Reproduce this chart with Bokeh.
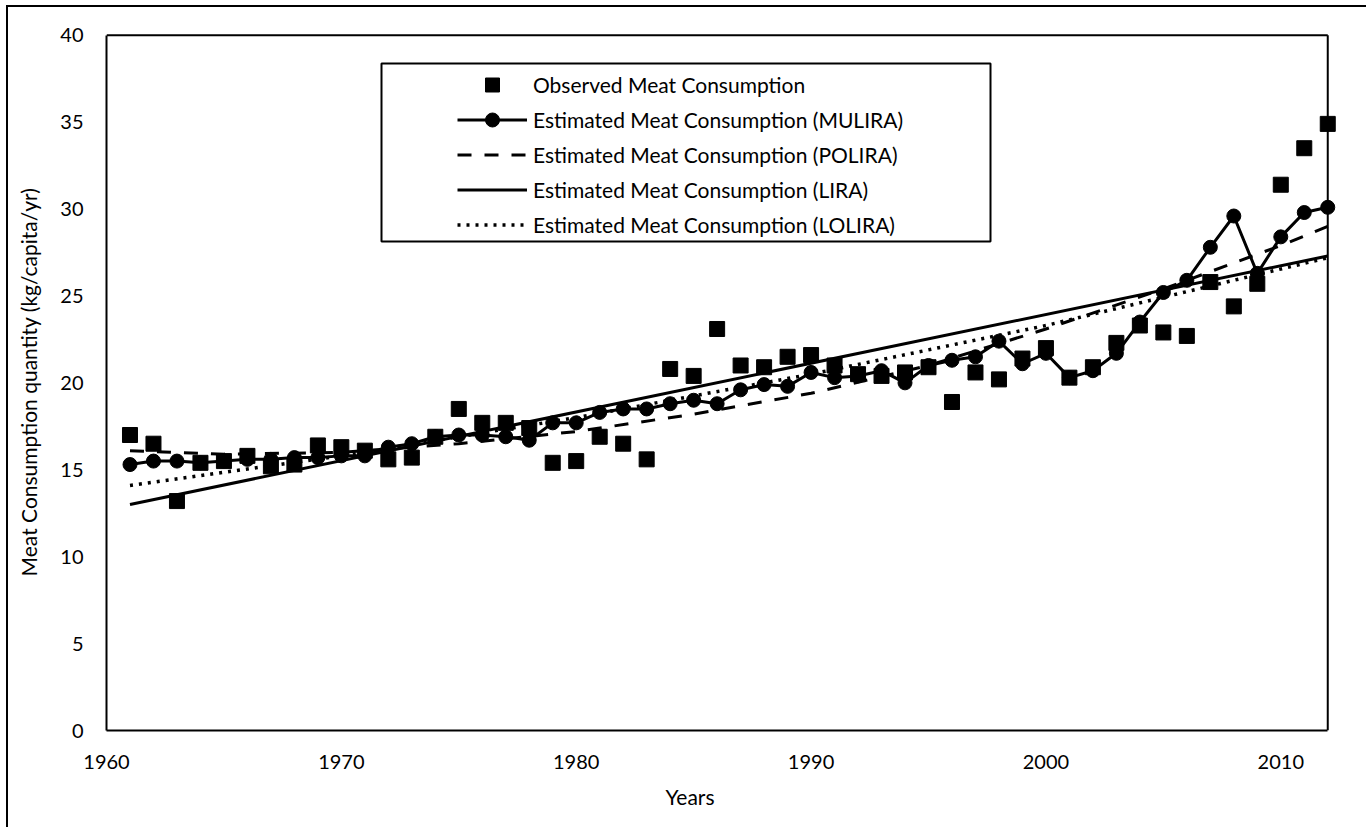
from bokeh.plotting import figure
from bokeh.models import Legend, LegendItem, BoxAnnotation, Title, FixedTicker, Range1d
from bokeh.embed import file_html
from bokeh.resources import INLINE

years = list(range(1961, 2013))
observed = [17.0, 16.5, 13.2, 15.4, 15.5, 15.8, 15.2, 15.3, 16.4, 16.3,
            16.1, 15.6, 15.7, 16.9, 18.5, 17.7, 17.7, 17.4, 15.4, 15.5,
            16.9, 16.5, 15.6, 20.8, 20.4, 23.1, 21.0, 20.9, 21.5, 21.6,
            21.0, 20.5, 20.4, 20.6, 20.9, 18.9, 20.6, 20.2, 21.4, 22.0,
            20.3, 20.9, 22.3, 23.3, 22.9, 22.7, 25.8, 24.4, 25.7, 31.4,
            33.5, 34.9]
mulira = [15.3, 15.5, 15.5, 15.4, 15.5, 15.6, 15.6, 15.7, 15.7, 15.8,
          15.8, 16.3, 16.5, 16.9, 17.0, 17.0, 16.9, 16.7, 17.7, 17.7,
          18.3, 18.5, 18.5, 18.8, 19.0, 18.8, 19.6, 19.9, 19.8, 20.6,
          20.3, 20.4, 20.7, 20.0, 21.0, 21.3, 21.5, 22.4, 21.1, 21.7,
          20.3, 20.7, 21.7, 23.5, 25.2, 25.9, 27.8, 29.6, 26.3, 28.4,
          29.8, 30.1]
polira_years = [1961, 1965, 1970, 1975, 1980, 1985, 1990, 1995, 2000, 2005, 2010, 2012]
polira = [16.1, 15.9, 16.0, 16.5, 17.2, 18.2, 19.4, 21.0, 23.1, 25.4, 27.9, 29.0]
lira_years = [1961, 2012]
lira = [13.0, 27.3]
lolira_years = [1961, 1970, 1980, 1990, 2000, 2012]
lolira = [14.1, 15.8, 18.0, 20.5, 23.3, 27.2]

x_ticks = [1960, 1970, 1980, 1990, 2000, 2010]
y_ticks = [0, 5, 10, 15, 20, 25, 30, 35, 40]
x_min, x_max = 1960, 2012
y_min, y_max = 0, 40

labels = ["Observed Meat Consumption",
          "Estimated Meat Consumption (MULIRA)",
          "Estimated Meat Consumption (POLIRA)",
          "Estimated Meat Consumption (LIRA)",
          "Estimated Meat Consumption (LOLIRA)"]

FONT = "Lato"
FS = "20px"
FS_BIG = "21px"

p = figure(width=1360, height=822,
           x_range=Range1d(x_min, x_max + 0.5), y_range=Range1d(y_min, y_max + 0.1),
           output_backend="svg", toolbar_location=None,
           min_border_left=98, min_border_right=29, min_border_top=26, min_border_bottom=99)
p.styles = {"border-left": "2px solid black", "border-top": "2px solid black",
            "margin-left": "6px", "margin-top": "5px"}
p.grid.visible = False
p.outline_line_color = None
p.background_fill_color = "white"
p.border_fill_color = "white"

for ax in (p.xaxis[0], p.yaxis[0]):
    ax.axis_line_color = "black"
    ax.axis_line_width = 2
    ax.major_tick_in = 0
    ax.major_tick_out = 0
    ax.minor_tick_in = 0
    ax.minor_tick_out = 0
    ax.major_label_text_font = FONT
    ax.major_label_text_font_size = FS
    ax.major_label_text_color = "black"
    ax.axis_label_text_font = FONT
    ax.axis_label_text_font_size = FS_BIG
    ax.axis_label_text_font_style = "normal"
    ax.axis_label_text_color = "black"

p.xaxis.ticker = FixedTicker(ticks=x_ticks)
p.yaxis.ticker = FixedTicker(ticks=y_ticks)
p.xaxis.bounds = (x_min, x_max)
p.yaxis.bounds = (y_min, y_max)
p.xaxis.major_label_standoff = 24
p.yaxis.major_label_standoff = 23
p.yaxis.axis_label = "Meat Consumption quantity (kg/capita/yr)"
p.yaxis.axis_label_standoff = 16

# top and right borders of the plot area
p.segment(x0=[x_min, x_max], y0=[y_max, y_min], x1=[x_max, x_max], y1=[y_max, y_max],
          line_color="black", line_width=2)

r_obs = p.scatter(years, observed, marker="square", size=15, fill_color="black", line_color="black")
r_mul_line = p.line(years, mulira, line_color="black", line_width=3)
r_mul_pts = p.scatter(years, mulira, marker="circle", size=14, fill_color="black", line_color="black")
r_pol = p.line(polira_years, polira, line_color="black", line_width=3, line_dash="14 13")
r_lir = p.line(lira_years, lira, line_color="black", line_width=3)
r_lol = p.line(lolira_years, lolira, line_color="black", line_width=3.5, line_dash="3 6")

box = BoxAnnotation(left=275, right=884, top=667, bottom=489,
                    left_units="screen", right_units="screen", top_units="screen", bottom_units="screen",
                    fill_color="white", fill_alpha=1.0, line_color="black", line_alpha=1.0, line_width=2)
p.add_layout(box)

legend = Legend(items=[LegendItem(label=labels[0], renderers=[r_obs]),
                       LegendItem(label=labels[1], renderers=[r_mul_line, r_mul_pts]),
                       LegendItem(label=labels[2], renderers=[r_pol]),
                       LegendItem(label=labels[3], renderers=[r_lir]),
                       LegendItem(label=labels[4], renderers=[r_lol])],
                location=(351, 488))
legend.border_line_color = None
legend.background_fill_alpha = 0
legend.padding = 0
legend.margin = 0
legend.spacing = 0
legend.glyph_width = 70
legend.glyph_height = 35
legend.label_height = 35
legend.label_standoff = 6
legend.label_text_font = FONT
legend.label_text_font_size = FS_BIG
legend.label_text_color = "black"
p.add_layout(legend)

p.add_layout(Title(text="Years", align="left", offset=559, text_font=FONT, text_font_size=FS_BIG,
                   text_font_style="normal", text_color="black", standoff=20), "below")

open("out.html", "w").write(file_html(p, INLINE))
